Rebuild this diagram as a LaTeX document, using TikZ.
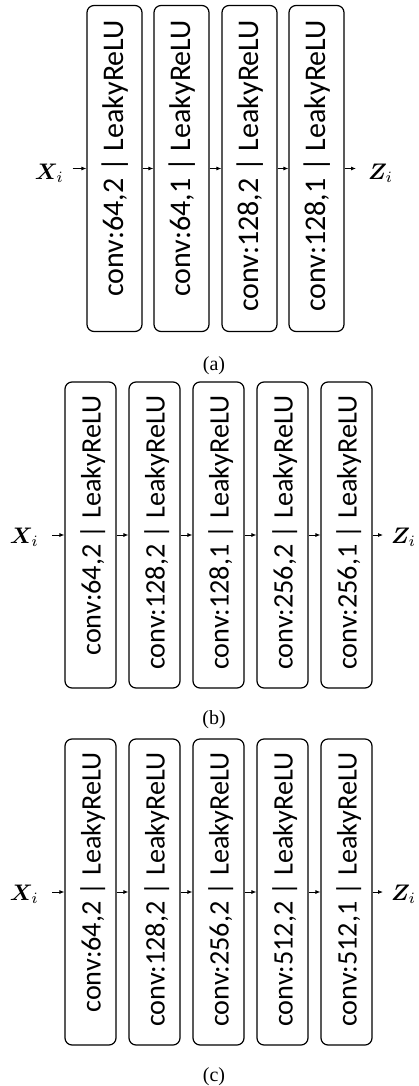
\documentclass[tikz,border=0pt]{standalone}
\usepackage{fontspec}
\usepackage{amsmath}
\usepackage{bm}
\usepackage{graphicx}
\newfontfamily\carlito{Carlito}
\newfontfamily\libserif{Liberation Serif}
\newcommand{\bigmath}[1]{\scalebox{2.25}{$#1$}}
\usetikzlibrary{arrows.meta,calc}
\tikzset{
  blk/.style={draw, line width=1.2pt, rounded corners=7pt, inner sep=0pt},
  blkA/.style={blk, minimum width=55pt, minimum height=326pt},
  blkB/.style={blk, minimum width=51pt, minimum height=306pt},
  lblA/.style={rotate=90, inner sep=0pt, anchor=base east, font=\carlito\fontsize{30}{36}\selectfont},
  lblB/.style={rotate=90, inner sep=0pt, anchor=base east, font=\carlito\fontsize{28.2}{34}\selectfont},
  arr/.style={-{Latex[length=5pt,width=4pt]}, line width=0.8pt},
  mth/.style={inner sep=0pt},
  capt/.style={inner sep=0pt, anchor=base, font=\libserif\fontsize{20}{24}\selectfont}
}
\begin{document}
\begin{tikzpicture}[x=1pt,y=-1pt]
\useasboundingbox (0,0) rectangle (419,1086);
% ---------- panel (a)
\foreach \i/\x/\t in {1/114.5/{64,2},2/181.5/{64,1},3/249.5/{128,2},4/316.5/{128,1}}{
  \node[blkA] (a\i) at (\x,168.5) {};
  \node[lblA] (at\i) at ($(a\i.north)+(9,15)$) {conv:\t{} | LeakyReLU};
}
\node[mth, anchor=base east] (xa) at (64,179) {\bigmath{\bm{X}_i}};
\node[mth, anchor=base west] (za) at (368,179) {\bigmath{\bm{Z}_i}};
\draw[arr, shorten <=8.5pt] (xa.east |- a1.west) -- (a1.west);
\draw[arr] (a1) -- (a2);
\draw[arr] (a2) -- (a3);
\draw[arr] (a3) -- (a4);
\draw[arr, shorten >=12pt] (a4.east) -- (za.west |- a4.east);
\node[capt] (capa) at (214,370) {(a)};
% ---------- panel (b)
\foreach \i/\x/\t in {1/90.5/{64,2},2/154.5/{128,2},3/218.5/{128,1},4/282.5/{256,2},5/346.5/{256,1}}{
  \node[blkB] (b\i) at (\x,535) {};
  \node[lblB] (bt\i) at ($(b\i.north)+(10,14)$) {conv:\t{} | LeakyReLU};
}
\node[mth, anchor=base east] (xb) at (39,543) {\bigmath{\bm{X}_i}};
\node[mth, anchor=base west] (zb) at (391,543) {\bigmath{\bm{Z}_i}};
\draw[arr, shorten <=13pt] (xb.east |- b1.west) -- (b1.west);
\draw[arr] (b1) -- (b2);
\draw[arr] (b2) -- (b3);
\draw[arr] (b3) -- (b4);
\draw[arr] (b4) -- (b5);
\draw[arr, shorten >=8pt] (b5.east) -- (zb.west |- b5.east);
\node[capt] (capb) at (214,724) {(b)};
% ---------- panel (c)
\foreach \i/\x/\t in {1/90.5/{64,2},2/154.5/{128,2},3/218.5/{256,2},4/282.5/{512,2},5/346.5/{512,1}}{
  \node[blkB] (c\i) at (\x,892) {};
  \node[lblB] (ct\i) at ($(c\i.north)+(10,14)$) {conv:\t{} | LeakyReLU};
}
\node[mth, anchor=base east] (xc) at (39,900) {\bigmath{\bm{X}_i}};
\node[mth, anchor=base west] (zc) at (391,900) {\bigmath{\bm{Z}_i}};
\draw[arr, shorten <=13pt] (xc.east |- c1.west) -- (c1.west);
\draw[arr] (c1) -- (c2);
\draw[arr] (c2) -- (c3);
\draw[arr] (c3) -- (c4);
\draw[arr] (c4) -- (c5);
\draw[arr, shorten >=8pt] (c5.east) -- (zc.west |- c5.east);
\node[capt] (capc) at (214,1081) {(c)};
\end{tikzpicture}
\end{document}
